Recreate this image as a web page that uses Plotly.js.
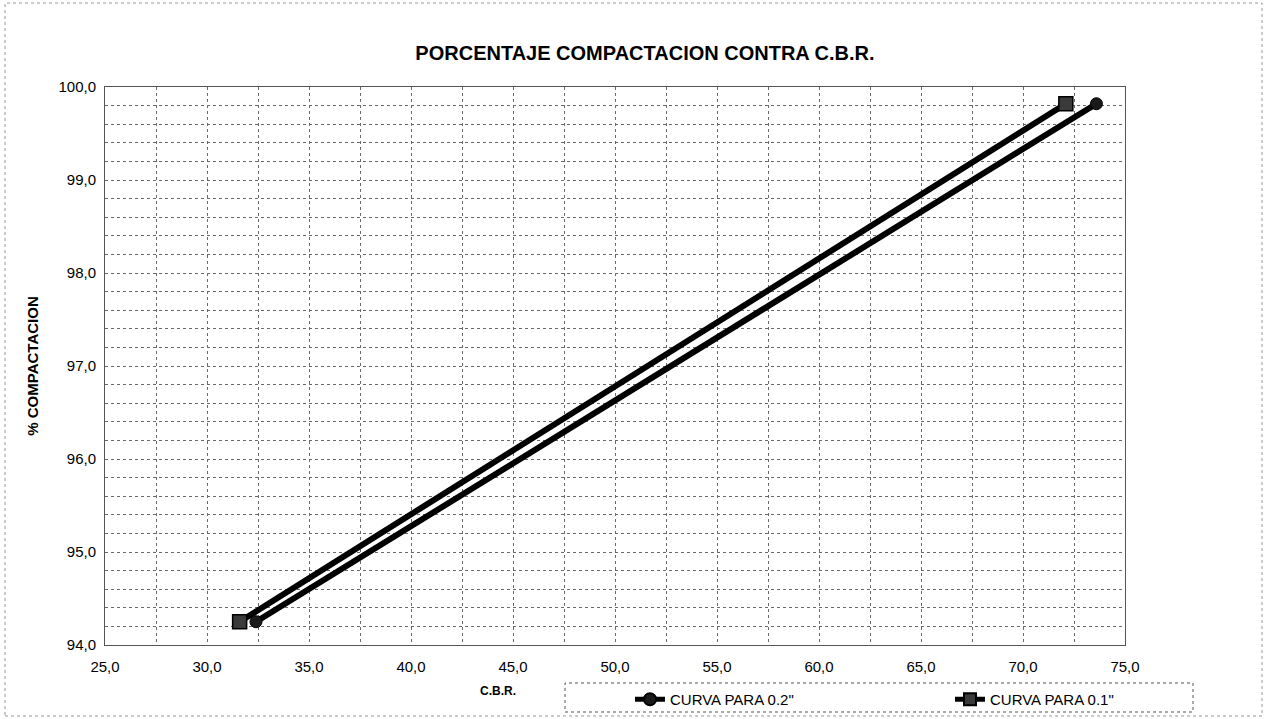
<!DOCTYPE html>
<html>
<head>
<meta charset="utf-8">
<script src="https://cdn.plot.ly/plotly-3.0.1.min.js"></script>
<style>html,body{margin:0;padding:0;background:#fff;}#chart{width:1270px;height:719px;}</style>
</head>
<body>
<div id="chart"></div>
<script>
// Data
const seriesNames = ['CURVA PARA 0.2"', 'CURVA PARA 0.1"'];
const cbr02 = [32.4, 73.6];
const comp02 = [94.25, 99.82];
const cbr01 = [31.6, 72.1];
const comp01 = [94.25, 99.82];

const chartTitle = 'PORCENTAJE COMPACTACION CONTRA C.B.R.';
const xTitle = 'C.B.R.';
const yTitle = '% COMPACTACION';

const font = 'Liberation Sans, Arial, sans-serif';
const gridColor = '#6a6a6a';

const traces = [
  {x: cbr02, y: comp02, name: seriesNames[0], type: 'scatter', mode: 'lines+markers',
   line: {color: '#000', width: 6},
   marker: {symbol: 'circle', size: 12, color: '#1a1a1a', line: {color: '#000', width: 1}}},
  {x: cbr01, y: comp01, name: seriesNames[1], type: 'scatter', mode: 'lines+markers',
   line: {color: '#000', width: 6},
   marker: {symbol: 'square', size: 14, color: '#3a3a3a', line: {color: '#000', width: 1.5}}}
];

const layout = {
  width: 1270, height: 719,
  paper_bgcolor: '#fff', plot_bgcolor: '#fff',
  separators: ',.',
  margin: {l: 105, r: 145, t: 87, b: 74, autoexpand: false},
  font: {family: font, color: '#000', size: 12},
  title: {text: '<b>' + chartTitle + '</b>', font: {family: font, size: 20, color: '#000'},
          x: 645 / 1270, xanchor: 'center', y: 1 - 53 / 719, yanchor: 'middle', xref: 'container', yref: 'container'},
  xaxis: {
    range: [25, 75], dtick: 5, tick0: 25, tickformat: '.1f',
    showgrid: true, gridcolor: gridColor, gridwidth: 1, griddash: 'dot',
    minor: {dtick: 2.5, showgrid: true, gridcolor: gridColor, gridwidth: 1, griddash: 'dot'},
    zeroline: false, showline: true, linecolor: '#555', linewidth: 1, mirror: true,
    ticks: '', ticklabelstandoff: 8, tickfont: {family: font, size: 15, color: '#000'}
  },
  yaxis: {
    range: [94, 100], dtick: 1, tick0: 94, tickformat: '.1f',
    showgrid: true, gridcolor: gridColor, gridwidth: 1, griddash: 'dot',
    minor: {dtick: 0.2, showgrid: true, gridcolor: gridColor, gridwidth: 1, griddash: 'dot'},
    zeroline: false, showline: true, linecolor: '#555', linewidth: 1, mirror: true,
    ticks: '', ticklabelstandoff: 5, tickfont: {family: font, size: 15, color: '#000'},
    title: {text: '<b>' + yTitle + '</b>', font: {family: font, size: 15, color: '#000'}, standoff: 16}
  },
  showlegend: true,
  legend: {
    orientation: 'h', x: (630 - 105) / 1020, xanchor: 'left', y: (645 - 683) / 558, yanchor: 'top',
    entrywidth: 275, entrywidthmode: 'pixels', borderwidth: 0, bgcolor: 'rgba(0,0,0,0)',
    font: {family: font, size: 15, color: '#000'}, itemsizing: 'constant'
  },
  annotations: [
    {text: '<b>' + xTitle + '</b>', xref: 'paper', yref: 'paper', x: (498 - 105) / 1020, y: (645 - 682) / 558,
     xanchor: 'center', yanchor: 'top', showarrow: false, font: {family: font, size: 12, color: '#000'}}
  ],
  shapes: [
    {type: 'rect', xref: 'paper', yref: 'paper', x0: (565 - 105) / 1020, x1: (1193 - 105) / 1020,
     y0: (645 - 712) / 558, y1: (645 - 683) / 558, line: {color: '#555', width: 1, dash: 'dot'}},
    {type: 'rect', xref: 'paper', yref: 'paper', x0: (5 - 105) / 1020, x1: (1262 - 105) / 1020,
     y0: (645 - 716) / 558, y1: (645 - 3) / 558, line: {color: '#999', width: 1, dash: 'dot'}}
  ]
};

Plotly.newPlot('chart', traces, layout, {displayModeBar: false, staticPlot: true});
</script>
</body>
</html>
